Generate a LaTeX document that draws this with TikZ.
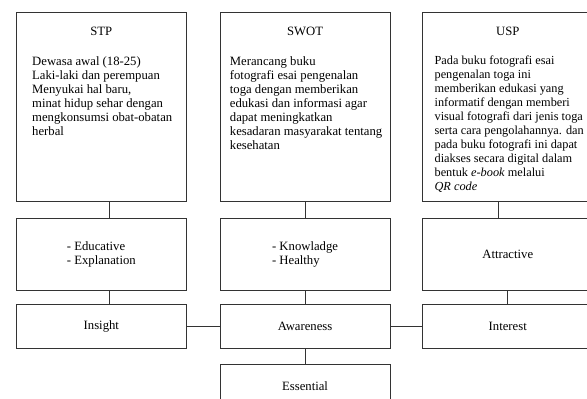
\documentclass[tikz,border=0pt]{standalone}
\usepackage{fontspec}
\setmainfont{Liberation Serif}
\usetikzlibrary{positioning}

\begin{document}
\begin{tikzpicture}[
    node distance=15pt and 33pt,
    box/.style={rectangle, draw=black!80, line width=0.7pt,
                minimum width=170pt, inner sep=0pt,
                font=\fontsize{12.7}{14}\selectfont},
    topbox/.style={box, minimum height=189pt},
    midbox/.style={box, minimum height=72pt, align=left},
    lowbox/.style={box, minimum height=44pt},
    head/.style={anchor=base, inner sep=0pt,
                 font=\fontsize{12.7}{14}\selectfont},
    body/.style={anchor=north west, align=left, inner sep=0pt,
                 font=\fontsize{12.7}{14}\selectfont},
    link/.style={draw=black!80, line width=0.7pt},
]
\fill[white] (0,0) rectangle (587pt,399pt);
\clip (0,0) rectangle (587pt,399pt);

% Top row
\node[topbox, anchor=north west] (stp) at (16pt,387pt) {};
\node[topbox, right=of stp] (swot) {};
\node[topbox, right=32pt of swot] (usp) {};

% Headings
\node[head] (stphead) at ([yshift=-24pt]stp.north) {STP};
\node[head] (swothead) at ([yshift=-24pt]swot.north) {SWOT};
\node[head] (usphead) at ([yshift=-24pt]usp.north) {USP};

% Body texts
\node[body] (stpbody) at ([shift={(16pt,-44pt)}]stp.north west)
  {Dewasa awal (18-25)\\Laki-laki dan perempuan\\Menyukai hal baru,\\
   minat hidup sehar dengan\\mengkonsumsi obat-obatan\\herbal};
\node[body] (swotbody) at ([shift={(10pt,-44pt)}]swot.north west)
  {Merancang buku\\fotografi esai pengenalan\\toga dengan memberikan\\
   edukasi dan informasi agar\\dapat meningkatkan\\
   kesadaran masyarakat tentang\\kesehatan};
\node[body, font=\fontsize{12.3}{14}\selectfont] (uspbody)
  at ([shift={(12pt,-44pt)}]usp.north west)
  {Pada buku fotografi esai\\pengenalan toga ini\\memberikan edukasi yang\\
   informatif dengan memberi\\visual fotografi dari jenis toga\\
   serta cara pengolahannya. dan\\pada buku fotografi ini dapat\\
   diakses secara digital dalam\\bentuk \textit{e-book} melalui\\
   \textit{QR code}};

% Second row
\node[midbox, below=16pt of stp] (edu) {- Educative\\- Explanation};
\node[midbox, below=16pt of swot] (know) {- Knowladge\\- Healthy};
\node[midbox, below=16pt of usp] (attr) {Attractive};

% Third row
\node[lowbox, below=14pt of edu] (insight) {Insight};
\node[lowbox, below=14pt of know] (aware) {Awareness};
\node[lowbox, below=14pt of attr] (interest) {Interest};

% Bottom
\node[lowbox, below=of aware] (essential) {Essential};

% Connectors
\draw[link] ([xshift=7.5pt]stp.south) -- ([xshift=7.5pt]edu.north);
\draw[link] (swot) -- (know);
\draw[link] ([xshift=-9pt]usp.south) -- ([xshift=-9pt]attr.north);
\draw[link] ([xshift=7.5pt]edu.south) -- ([xshift=7.5pt]insight.north);
\draw[link] (know) -- (aware);
\draw[link] (attr) -- (interest);
\draw[link] (insight) -- (aware);
\draw[link] (aware) -- (interest);
\draw[link] (aware) -- (essential);

\end{tikzpicture}
\end{document}
